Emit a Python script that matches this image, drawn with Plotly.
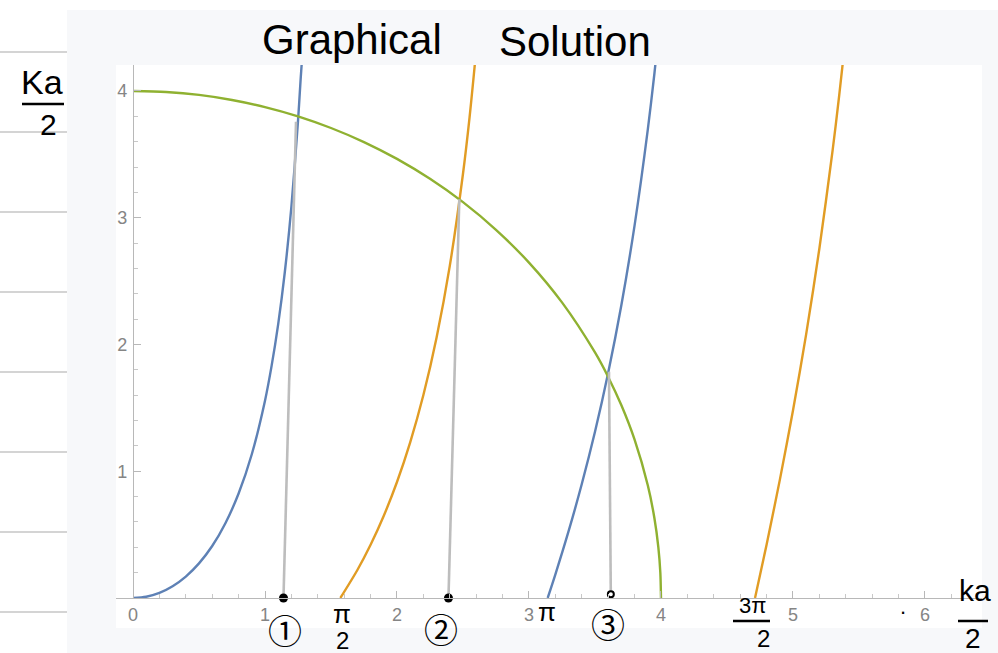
import plotly.graph_objects as go

W, H = 998, 653

# k·tan(k) — first branch (0 .. π/2)
blue_x1 = [0.0, 0.1, 0.2, 0.3, 0.4, 0.5, 0.6, 0.7, 0.8, 0.9, 1.0, 1.05, 1.1, 1.15, 1.2, 1.25, 1.27, 1.28, 1.3]
blue_y1 = [0.0, 0.010, 0.0405, 0.0928, 0.169, 0.273, 0.410, 0.590, 0.824, 1.134, 1.557, 1.831, 2.161, 2.570, 3.087, 3.762, 4.094, 4.246, 4.683]
# k·tan(k) — second branch (π .. 3π/2)
blue_x2 = [3.1416, 3.2, 3.3, 3.4, 3.5, 3.6, 3.7, 3.8, 3.9, 3.95, 4.0]
blue_y2 = [0.0, 0.187, 0.527, 0.899, 1.311, 1.777, 2.311, 2.940, 3.695, 4.136, 4.631]

# -k·cot(k) — first branch (π/2 .. π)
orange_x1 = [1.5708, 1.7, 1.8, 1.9, 2.0, 2.1, 2.2, 2.3, 2.4, 2.5, 2.55, 2.6]
orange_y1 = [0.0, 0.221, 0.420, 0.649, 0.915, 1.228, 1.601, 2.055, 2.620, 3.347, 3.794, 4.321]
# -k·cot(k) — second branch (3π/2 .. 2π)
orange_x2 = [4.7124, 4.8, 4.9, 5.0, 5.1, 5.2, 5.3, 5.35, 5.4]
orange_y2 = [0.0, 0.421, 0.930, 1.479, 2.082, 2.757, 3.530, 3.963, 4.435]

# quarter circle of radius 4
green_x = [0.0, 0.25, 0.5, 0.75, 1.0, 1.25, 1.5, 1.75, 2.0, 2.25, 2.5, 2.75, 3.0, 3.25, 3.5, 3.6, 3.7, 3.8, 3.9, 3.95, 3.98, 3.995, 4.0]
green_y = [4.0, 3.992, 3.969, 3.929, 3.873, 3.800, 3.708, 3.597, 3.464, 3.307, 3.123, 2.905, 2.646, 2.332, 1.937, 1.744, 1.520, 1.249, 0.889, 0.631, 0.400, 0.200, 0.0]

# drop lines from each crossing down to the axis
drop_top_x = [1.235, 2.472, 3.606]
drop_top_y = [3.757, 3.146, 1.785]
drop_foot_x = [1.14, 2.39, 3.62]

x_ticks = [0, 1, 2, 3, 4, 5, 6]
y_ticks = [1, 2, 3, 4]

BLUE = "#5E81B5"
ORANGE = "#E19C24"
GREEN = "#8FB131"
GRAY = "#BDBDBD"


def px(x):
    return x / W


def py(y):
    return 1 - y / H


fig = go.Figure()

for xs, ys, col in [
    (blue_x1, blue_y1, BLUE),
    (blue_x2, blue_y2, BLUE),
    (orange_x1, orange_y1, ORANGE),
    (orange_x2, orange_y2, ORANGE),
    (green_x, green_y, GREEN),
]:
    fig.add_trace(go.Scatter(x=xs, y=ys, mode="lines",
                             line=dict(color=col, width=2.4, shape="spline", smoothing=0.8),
                             hoverinfo="skip", showlegend=False))

gx, gy = [], []
for tx, ty, fx in zip(drop_top_x, drop_top_y, drop_foot_x):
    gx += [tx, fx, None]
    gy += [ty, 0, None]
fig.add_trace(go.Scatter(x=gx, y=gy, mode="lines", line=dict(color=GRAY, width=2.6),
                         hoverinfo="skip", showlegend=False))

fig.add_trace(go.Scatter(x=drop_foot_x[:2], y=[0, 0], mode="markers",
                         marker=dict(color="black", size=9), cliponaxis=False,
                         hoverinfo="skip", showlegend=False))
fig.add_trace(go.Scatter(x=drop_foot_x[2:], y=[0.03], mode="markers",
                         marker=dict(color="white", size=6, line=dict(color="black", width=2)),
                         cliponaxis=False, hoverinfo="skip", showlegend=False))

shapes = []
# ruled note-paper lines on the left
for yy in [52, 132, 212, 292, 372, 452, 532, 612]:
    shapes.append(dict(type="line", xref="paper", yref="paper", x0=0, x1=px(67),
                       y0=py(yy), y1=py(yy), line=dict(color="#D4D4D4", width=2), layer="below"))
# grey notebook panel and white graphic card
shapes.append(dict(type="rect", xref="paper", yref="paper", x0=px(67), x1=1, y0=0, y1=py(10),
                   fillcolor="#F7F8FA", line=dict(width=0), layer="below"))
shapes.append(dict(type="rect", xref="paper", yref="paper", x0=px(116), x1=px(982), y0=py(628), y1=py(65),
                   fillcolor="white", line=dict(width=0), layer="below"))
# fraction bars of the handwritten labels
for x0, x1, yy in [(22, 64, 104), (958, 988, 621), (733, 770, 621)]:
    shapes.append(dict(type="line", xref="paper", yref="paper", x0=px(x0), x1=px(x1),
                       y0=py(yy), y1=py(yy), line=dict(color="black", width=2.5)))

HAND = "Liberation Sans"
notes = [
    ("Graphical", 352, 40, 42),
    ("Solution", 575, 42, 42),
    ("Ka", 42, 82, 34),
    ("2", 48, 124, 30),
    ("ka", 975, 590, 30),
    ("2", 973, 638, 28),
    ("π", 342, 614, 26),
    ("2", 342, 640, 24),
    ("π", 547, 612, 26),
    ("3π", 752, 605, 22),
    ("2", 763, 638, 24),
    (".", 903, 606, 22),
]
annotations = []
for text, x, y, size in notes:
    annotations.append(dict(text=text, x=px(x), y=py(y), xref="paper", yref="paper",
                            showarrow=False, xanchor="center", yanchor="middle",
                            font=dict(family=HAND, size=size, color="black")))
for text, x, y in [("①", 285, 629), ("②", 441, 628), ("③", 608, 623)]:
    annotations.append(dict(text=text, x=px(x), y=py(y), xref="paper", yref="paper",
                            showarrow=False, xanchor="center", yanchor="middle",
                            font=dict(family="Noto Sans CJK JP", size=34, color="black")))

tick_font = dict(family="Liberation Sans", size=18, color="#858585")

fig.update_layout(
    width=W, height=H,
    margin=dict(l=0, r=0, t=0, b=0),
    paper_bgcolor="white",
    plot_bgcolor="white",
    shapes=shapes,
    annotations=annotations,
    hovermode=False,
    xaxis=dict(domain=[px(116), px(982)], range=[-0.1288, 6.432],
               tickvals=x_ticks, ticks="inside", ticklen=7, tickcolor="#B8B8B8",
               minor=dict(dtick=0.2, tick0=0, ticks="inside", ticklen=4, tickcolor="#C8C8C8"),
               showline=True, linecolor="#B8B8B8", linewidth=1.3,
               showgrid=False, zeroline=False, tickfont=tick_font, anchor="y",
               ticklabelstandoff=0),
    yaxis=dict(domain=[py(598), py(65)], range=[0, 4.205],
               tickvals=y_ticks, ticks="inside", ticklen=7, tickcolor="#B8B8B8",
               minor=dict(dtick=0.2, tick0=0, ticks="inside", ticklen=4, tickcolor="#C8C8C8"),
               showline=True, linecolor="#B8B8B8", linewidth=1.3,
               showgrid=False, zeroline=False, tickfont=tick_font,
               anchor="free", position=px(133), ticklabelstandoff=2),
)

fig.write_html("out.html", config=dict(displayModeBar=False))
